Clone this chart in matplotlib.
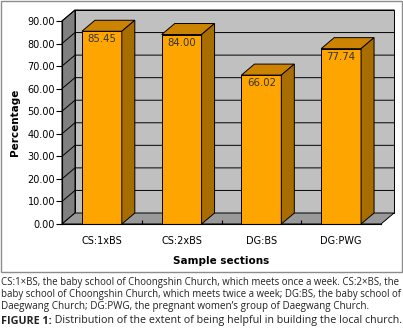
import matplotlib
matplotlib.use("Agg")
import matplotlib.pyplot as plt
from matplotlib.patches import Polygon, Rectangle

# data
categories = ["CS:1xBS", "CS:2xBS", "DG:BS", "DG:PWG"]
percentages = [85.45, 84.00, 66.02, 77.74]
y_ticks = [0, 10, 20, 30, 40, 50, 60, 70, 80, 90]

caption_lines = [
    "CS:1\u00d7BS, the baby school of Choongshin Church, which meets once a week. CS:2\u00d7BS, the",
    "baby school of Choongshin Church, which meets twice a week; DG:BS, the baby school of",
    "Daegwang Church; DG:PWG, the pregnant women\u2019s group of Daegwang Church.",
]
figure_label = "FIGURE 1:"
figure_title = " Distribution of the extent of being helpful in building the local church."

W, H = 403, 330
front = "#FFA500"
top_c = "#CC8400"
side_c = "#A86D00"

fig = plt.figure(figsize=(W / 100, H / 100), dpi=100)

# outer chart frame
fig.patches.append(Rectangle((0.5 / W, 1 - 271.5 / H), 401.5 / W, 271 / H,
                             transform=fig.transFigure, fill=False,
                             edgecolor="#8c8c8c", lw=1.0))

# front plane of the 3d plot area
left, right, bottom, top = 62, 381, 224, 21
ax = fig.add_axes([left / W, 1 - bottom / H, (right - left) / W, (bottom - top) / H])
ax.set_xlim(-0.5, len(categories) - 0.5)
ax.set_ylim(0, 90)
ax.patch.set_visible(False)

x0, x1 = ax.get_xlim()
y1 = ax.get_ylim()[1]
# depth offset (13 px right, 11 px up) in data units
ddx = 13 / (right - left) * (x1 - x0)
ddy = 11 / (bottom - top) * y1

# back wall, side wall, floor
ax.add_patch(Polygon([(x0 + ddx, ddy), (x1 + ddx, ddy), (x1 + ddx, y1 + ddy), (x0 + ddx, y1 + ddy)],
                     closed=True, facecolor="#C0C0C0", edgecolor="black", lw=0.7,
                     clip_on=False, zorder=0))
ax.add_patch(Polygon([(x0, 0), (x0 + ddx, ddy), (x0 + ddx, y1 + ddy), (x0, y1)],
                     closed=True, facecolor="#808080", edgecolor="black", lw=0.7,
                     clip_on=False, zorder=0))
ax.add_patch(Polygon([(x0, 0), (x1, 0), (x1 + ddx, ddy), (x0 + ddx, ddy)],
                     closed=True, facecolor="#999999", edgecolor="black", lw=0.7,
                     clip_on=False, zorder=0))
for t in y_ticks[1:]:
    ax.plot([x0, x0 + ddx, x1 + ddx], [t, t + ddy, t + ddy], color="black", lw=0.7,
            clip_on=False, zorder=1)

# bars
w = 0.5
xs = list(range(len(categories)))
ax.bar(xs, percentages, width=w, color=front, edgecolor="black", lw=0.7, zorder=3)
for x, v in zip(xs, percentages):
    xl, xr = x - w / 2, x + w / 2
    ax.add_patch(Polygon([(xl, v), (xr, v), (xr + ddx, v + ddy), (xl + ddx, v + ddy)],
                         closed=True, facecolor=top_c, edgecolor="black", lw=0.7,
                         clip_on=False, zorder=3))
    ax.add_patch(Polygon([(xr, 0), (xr + ddx, ddy), (xr + ddx, v + ddy), (xr, v)],
                         closed=True, facecolor=side_c, edgecolor="black", lw=0.7,
                         clip_on=False, zorder=3))
    ax.text(x, v - 3.6, f"{v:.2f}", ha="center", va="center", fontsize=7.3,
            color="#333333", zorder=4)

for s in ["top", "right"]:
    ax.spines[s].set_visible(False)
ax.spines["left"].set_linewidth(0.8)
ax.spines["bottom"].set_linewidth(0.8)
ax.spines["left"].set_zorder(5)
ax.spines["bottom"].set_zorder(5)

ax.set_yticks(y_ticks)
ax.set_yticklabels([f"{t:.2f}" for t in y_ticks])
ax.set_xticks(xs)
ax.set_xticklabels(categories)
ax.tick_params(axis="y", length=4, width=0.8, labelsize=7, colors="black", pad=1)
ax.tick_params(axis="x", length=0, labelsize=7, pad=9)
ax.set_xticks([x + 0.5 for x in xs[:-1]], minor=True)
ax.tick_params(axis="x", which="minor", length=3, width=0.8, direction="in")

ax.set_ylabel("Percentage", fontsize=7.5, fontweight="bold", labelpad=5)
ax.set_xlabel("Sample sections", fontsize=7.5, fontweight="bold", labelpad=7)

# caption below the chart
renderer = fig.canvas.get_renderer()
cap_font = dict(family="Open Sans", color="#222222", va="center", ha="left")

# first two lines are justified in the source: shrink/grow them to ~400 px
for line, y_px in zip(caption_lines[:2], [282, 294]):
    t = fig.text(1 / W, 1 - y_px / H, line, fontsize=7.1, **cap_font)
    wd = t.get_window_extent(renderer).width
    t.set_fontsize(min(7.1 * 399 / wd, 7.4))
fig.text(1 / W, 1 - 306 / H, caption_lines[2], fontsize=7.1, **cap_font)

lab = fig.text(1 / W, 1 - 321 / H, figure_label, fontsize=7.75, fontweight="bold", **cap_font)
lw_ = lab.get_window_extent(renderer).width
fig.text((1 + lw_) / W, 1 - 321 / H, figure_title, fontsize=7.75, **cap_font)

fig.savefig("out.png", dpi=100)
